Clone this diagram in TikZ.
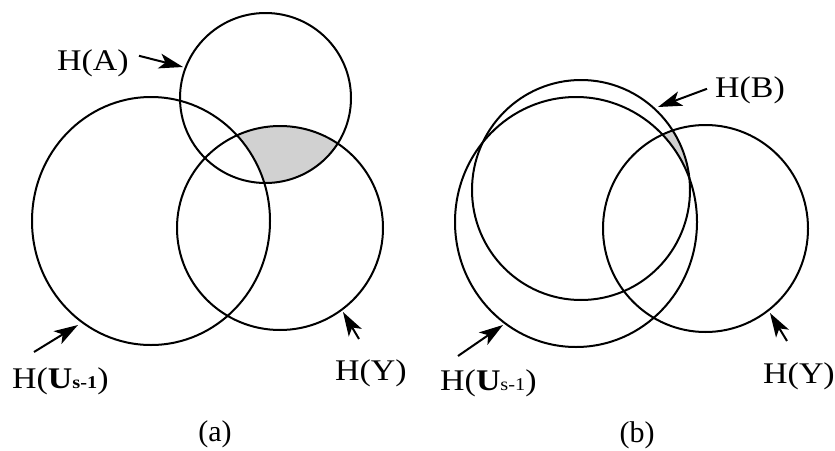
\documentclass[tikz,border=0pt]{standalone}
\usepackage{fontspec}
\setmainfont{Liberation Serif}
\usetikzlibrary{arrows.meta,positioning}

\tikzset{
  ring/.style={line width=2pt},
  pointer/.style={line width=2pt,-{Stealth[length=24pt,width=15pt,inset=6pt]}},
  lbl/.style={inner sep=0pt,anchor=base west,xscale=1.13,font=\fontsize{30}{30}\selectfont},
  panelcap/.style={inner sep=0pt,anchor=base,font=\fontsize{30}{30}\selectfont},
  overlap/.style={fill=black!18}
}
\newcommand{\subsm}[1]{{\fontsize{18}{18}\selectfont #1}}

\begin{document}
\begin{tikzpicture}[x=1pt,y=-1pt]
  \useasboundingbox (0,0) rectangle (835,450);
  % Left panel (a)
  \coordinate (cA) at (265.5,98);
  \coordinate (cUa) at (151,221);
  \coordinate (cYa) at (280,228);
  \begin{scope}
    \clip (cA) ellipse [x radius=85.5pt,y radius=85pt];
    \clip (cYa) ellipse [x radius=103pt,y radius=102pt];
    \fill[overlap,even odd rule] (0,0) rectangle (835,450)
      (cUa) ellipse [x radius=119pt,y radius=124pt];
  \end{scope}
  \draw[ring] (cA) ellipse [x radius=85.5pt,y radius=85pt];
  \draw[ring] (cUa) ellipse [x radius=119pt,y radius=124pt];
  \draw[ring] (cYa) ellipse [x radius=103pt,y radius=102pt];
  \node[lbl] (labA) at (57,70) {H(A)};
  \node[lbl] (labUa) at (12,388) {H({\bfseries U}\subsm{\bfseries s-1})};
  \node[lbl] (labYa) at (335,380) {H(Y)};
  \node[panelcap] (capA) at (215,441) {(a)};
  \coordinate (tipA) at (183,67);
  \coordinate (tipUa) at (78,325);
  \coordinate (tipYa) at (343,312);
  \draw[pointer] ([shift={(10pt,7pt)}]labA.east) -- (tipA);
  \draw[pointer] ([shift={(22pt,15pt)}]labUa.north west) -- (tipUa);
  \draw[pointer] ([shift={(24pt,20pt)}]labYa.north west) -- (tipYa);
  % Right panel (b)
  \coordinate (cB) at (581,190);
  \coordinate (cUb) at (576,222);
  \coordinate (cYb) at (705.5,228.5);
  \begin{scope}
    \clip (cB) ellipse [x radius=109pt,y radius=110pt];
    \clip (cYb) ellipse [x radius=102.5pt,y radius=103.5pt];
    \fill[overlap,even odd rule] (0,0) rectangle (835,450)
      (cUb) ellipse [x radius=121pt,y radius=125pt];
  \end{scope}
  \draw[ring] (cB) ellipse [x radius=109pt,y radius=110pt];
  \draw[ring] (cUb) ellipse [x radius=121pt,y radius=125pt];
  \draw[ring] (cYb) ellipse [x radius=102.5pt,y radius=103.5pt];
  \node[lbl] (labB) at (715,97) {H(B)};
  \node[lbl] (labUb) at (440,390) {H({\bfseries U}\subsm{s-1})};
  \node[lbl] (labYb) at (763,383) {H(Y)};
  \node[panelcap] (capB) at (637,442) {(b)};
  \coordinate (tipB) at (658,107);
  \coordinate (tipUb) at (503,325);
  \coordinate (tipYb) at (770,313);
  \draw[pointer] ([shift={(-8pt,1pt)}]labB.west) -- (tipB);
  \draw[pointer] ([shift={(18pt,13pt)}]labUb.north west) -- (tipUb);
  \draw[pointer] ([shift={(24pt,21pt)}]labYb.north west) -- (tipYb);
\end{tikzpicture}
\end{document}
